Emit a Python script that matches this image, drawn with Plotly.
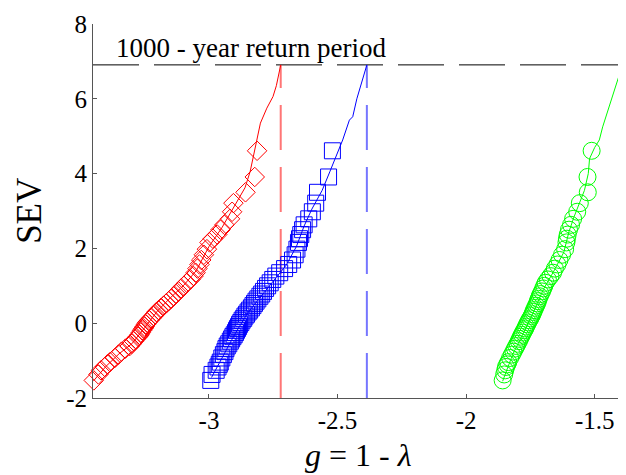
import plotly.graph_objects as go

# Standardized extreme value variate (plotting positions) shared by the three samples
sev = [-1.53, -1.37, -1.26, -1.17, -1.10, -1.04, -0.93, -0.84, -0.76, -0.68,
       -0.61, -0.55, -0.48, -0.42, -0.36, -0.31, -0.25, -0.19, -0.14, -0.09,
       -0.03, 0.02, 0.08, 0.13, 0.19, 0.24, 0.30, 0.35, 0.41, 0.47,
       0.53, 0.59, 0.65, 0.72, 0.78, 0.85, 0.93, 1.00, 1.08, 1.17,
       1.26, 1.35, 1.46, 1.57, 1.69, 1.83, 1.98, 2.16, 2.26, 2.37,
       2.50, 2.63, 2.79, 2.98, 3.21, 3.50, 3.91, 4.61]

red_g = [-3.448, -3.430, -3.420, -3.405, -3.395, -3.385, -3.366, -3.352, -3.340, -3.325,
         -3.308, -3.300, -3.292, -3.285, -3.276, -3.270, -3.265, -3.260, -3.255, -3.250,
         -3.245, -3.240, -3.232, -3.225, -3.216, -3.210, -3.204, -3.196, -3.186, -3.176,
         -3.166, -3.157, -3.148, -3.138, -3.128, -3.118, -3.108, -3.097, -3.086, -3.072,
         -3.060, -3.052, -3.045, -3.037, -3.030, -3.020, -3.008, -2.998, -2.985, -2.968,
         -2.955, -2.940, -2.918, -2.910, -2.905, -2.858, -2.822, -2.813]

blue_g = [-2.993, -2.988, -2.972, -2.965, -2.960, -2.956, -2.950, -2.944, -2.938, -2.934,
          -2.929, -2.923, -2.917, -2.912, -2.907, -2.902, -2.897, -2.893, -2.889, -2.885,
          -2.881, -2.876, -2.871, -2.865, -2.860, -2.854, -2.848, -2.842, -2.835, -2.829,
          -2.823, -2.817, -2.810, -2.802, -2.795, -2.788, -2.780, -2.772, -2.762, -2.752,
          -2.740, -2.725, -2.706, -2.690, -2.675, -2.665, -2.658, -2.652, -2.648, -2.643,
          -2.636, -2.630, -2.612, -2.598, -2.585, -2.578, -2.535, -2.520]

green_g = [-1.858, -1.852, -1.848, -1.845, -1.840, -1.836, -1.829, -1.822, -1.816, -1.810,
           -1.805, -1.800, -1.795, -1.791, -1.787, -1.783, -1.779, -1.774, -1.770, -1.767,
           -1.763, -1.759, -1.755, -1.750, -1.746, -1.742, -1.739, -1.736, -1.732, -1.728,
           -1.724, -1.721, -1.718, -1.714, -1.710, -1.705, -1.700, -1.696, -1.691, -1.682,
           -1.672, -1.662, -1.655, -1.645, -1.637, -1.627, -1.615, -1.610, -1.608, -1.605,
           -1.600, -1.592, -1.584, -1.568, -1.558, -1.527, -1.528, -1.512]

# Fitted curves
red_fit_g = [-3.45, -3.40, -3.35, -3.30, -3.25, -3.20, -3.15, -3.10, -3.05, -3.00,
             -2.95, -2.90, -2.86, -2.84, -2.825, -2.80, -2.775, -2.751, -2.738, -2.721]
red_fit_sev = [-1.55, -1.15, -0.82, -0.55, -0.12, 0.33, 0.68, 1.00, 1.40, 2.05,
               2.55, 3.15, 3.62, 4.05, 4.55, 5.35, 5.75, 6.06, 6.35, 6.907]

blue_fit_g = [-2.99, -2.95, -2.90, -2.85, -2.80, -2.75, -2.70, -2.66, -2.63, -2.60,
              -2.56, -2.53, -2.50, -2.48, -2.454, -2.441, -2.425, -2.408, -2.386]
blue_fit_sev = [-1.45, -0.95, -0.30, 0.27, 0.70, 1.15, 1.55, 2.05, 2.60, 3.05,
                3.55, 4.05, 4.55, 4.90, 5.43, 5.52, 6.00, 6.41, 6.907]

green_fit_g = [-1.858, -1.82, -1.78, -1.74, -1.70, -1.66, -1.62, -1.60, -1.58, -1.56,
               -1.54, -1.525, -1.52, -1.50, -1.482, -1.469, -1.436, -1.415, -1.392]
green_fit_sev = [-1.55, -0.85, -0.30, 0.27, 0.90, 1.38, 1.90, 2.45, 2.85, 3.20,
                 3.55, 4.00, 4.40, 4.70, 4.90, 5.25, 5.97, 6.45, 6.907]

# 1000-year return level
return_sev = 6.907
return_g = [-2.721, -2.386, -1.392]   # red, blue, green

x_range = [-3.451, -1.390]
y_range = [-2, 8]
x_tickvals = [-3, -2.5, -2, -1.5]
x_ticktext = ["-3", "-2.5", "-2", "-1.5"]
y_tickvals = [-2, 0, 2, 4, 6, 8]
y_ticktext = ["-2", "0", "2", "4", "6", "8"]

FONT = "Liberation Serif, Times New Roman, serif"

fig = go.Figure()

# horizontal dashed line for return period
fig.add_trace(go.Scatter(x=[x_range[0], x_range[1]], y=[return_sev, return_sev], mode="lines",
                         line=dict(color="black", width=1, dash="46px,15px"),
                         showlegend=False, hoverinfo="skip", cliponaxis=False))

series = [
    (red_g, red_fit_g, red_fit_sev, "#ff0000", "rgba(255,60,60,0.7)", "diamond-open", 15),
    (blue_g, blue_fit_g, blue_fit_sev, "#0000ff", "rgba(60,60,255,0.7)", "square-open", 16),
    (green_g, green_fit_g, green_fit_sev, "#00ff00", "rgba(40,230,40,0.8)", "circle-open", 17),
]

for (gx, fx, fy, col, dcol, sym, msz), rg in zip(series, return_g):
    fig.add_trace(go.Scatter(x=[rg, rg], y=[y_range[0], return_sev], mode="lines",
                             line=dict(color=dcol, width=2, dash="45px,17px"),
                             showlegend=False, hoverinfo="skip", cliponaxis=False))
    fig.add_trace(go.Scatter(x=gx, y=sev, mode="markers",
                             marker=dict(symbol=sym, size=msz, color=col, line=dict(color=col, width=1)),
                             showlegend=False, cliponaxis=False))
    fig.add_trace(go.Scatter(x=fx, y=fy, mode="lines", line=dict(color=col, width=1),
                             showlegend=False, cliponaxis=False))

axis_common = dict(showgrid=False, zeroline=False, showline=True, linecolor="#555555", linewidth=1,
                   ticks="inside", ticklen=4, tickcolor="#555555", mirror=False, automargin=False,
                   tickfont=dict(family=FONT, size=25, color="black"))

fig.update_xaxes(range=x_range, tickvals=x_tickvals, ticktext=x_ticktext, **axis_common)
fig.update_yaxes(range=y_range, tickvals=y_tickvals, ticktext=y_ticktext, **axis_common)

fig.add_annotation(text="1000 - year return period", x=0.04, y=0.935, xref="paper", yref="paper",
                   xanchor="left", yanchor="middle", showarrow=False,
                   font=dict(family=FONT, size=27, color="black"))
fig.add_annotation(text="SEV", x=-0.121, y=0.5, xref="paper", yref="paper", textangle=-90,
                   xanchor="center", yanchor="middle", showarrow=False,
                   font=dict(family=FONT, size=35, color="black"))
fig.add_annotation(text="<i>g</i> = 1 - <i>λ</i>", x=0.5, y=-0.153, xref="paper", yref="paper",
                   xanchor="center", yanchor="middle", showarrow=False,
                   font=dict(family=FONT, size=32, color="black"))

# page body adds an 8px offset, so the figure is 8px smaller and the margins compensate
fig.update_layout(width=618, height=467, margin=dict(l=85, r=3, t=16, b=77, autoexpand=False),
                  plot_bgcolor="white", paper_bgcolor="white", showlegend=False)

fig.write_html("out.html")
